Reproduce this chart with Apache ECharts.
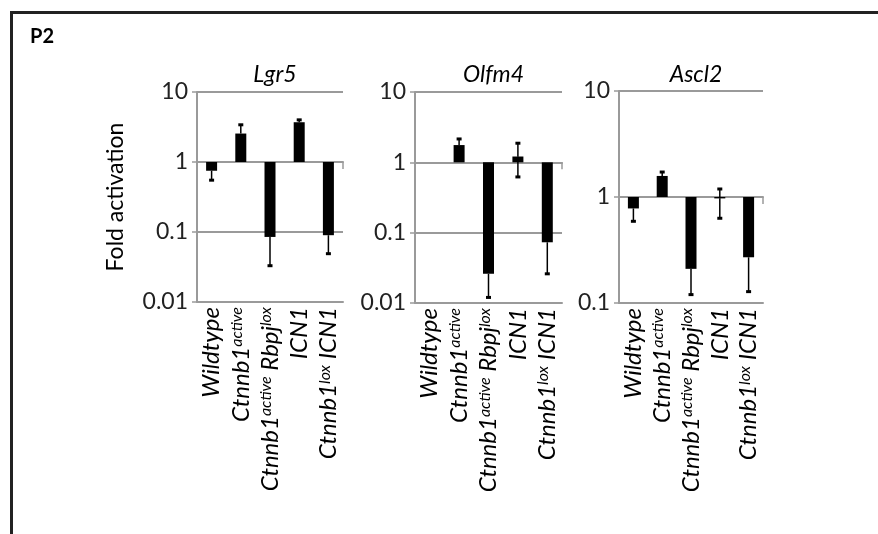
<!DOCTYPE html>
<html>
<head>
<meta charset="utf-8">
<script src="https://cdn.jsdelivr.net/npm/echarts@6/dist/echarts.min.js"></script>
<style>
html, body { margin: 0; padding: 0; background: #fff; }
#main { width: 878px; height: 534px; }
</style>
</head>
<body>
<div id="main"></div>
<script>
// genes (one panel each) and genotypes on the x axis
var genes = ['Lgr5', 'Olfm4', 'Ascl2'];
var genotypes = ['Wildtype', 'Ctnnb1active', 'Ctnnb1activeRbpjlox', 'ICN1', 'Ctnnb1loxICN1'];
var yTicks = ['0.01', '0.1', '1', '10'];

// fold activation (mean) and error bar ends, null = no error bar on that side
var lgr5Mean = [0.75, 2.55, 0.085, 3.7, 0.09];
var lgr5Low = [0.55, null, 0.033, null, 0.049];
var lgr5High = [null, 3.4, null, 4.0, null];

var olfm4Mean = [1, 1.76, 0.026, 1.21, 0.073];
var olfm4Low = [null, null, 0.012, 0.62, 0.026];
var olfm4High = [null, 2.15, null, 1.87, null];

var ascl2Mean = [0.78, 1.58, 0.21, 0.97, 0.27];
var ascl2Low = [0.59, null, 0.12, 0.63, 0.128];
var ascl2High = [null, 1.72, null, 1.19, null];

var means = [lgr5Mean, olfm4Mean, ascl2Mean];
var lows = [lgr5Low, olfm4Low, ascl2Low];
var highs = [lgr5High, olfm4High, ascl2High];
var yMin = [0.01, 0.01, 0.1];
var yMax = [10, 10, 10];

var myChart = echarts.init(document.getElementById('main'));
var grey = '#9a9a9a';
var font = 'Lato, "Open Sans", sans-serif';

// panel boxes
var grids = [
    {left: 197, top: 92, width: 146, height: 210},
    {left: 415, top: 92, width: 147, height: 211},
    {left: 619, top: 91, width: 144, height: 212}
];

var labelMap = {
    'Wildtype': '{i|Wildtype}',
    'Ctnnb1active': '{i|Ctnnb1}{s|active}',
    'Ctnnb1activeRbpjlox': '{i|Ctnnb1}{s|active}{i| Rbpj}{s|lox}',
    'ICN1': '{i|ICN1}',
    'Ctnnb1loxICN1': '{i|Ctnnb1}{s|lox}{i| ICN1}'
};

function renderBar(params, api) {
    var i = api.value(0);
    var v = api.value(1);
    var p1 = api.coord([i, 1]);
    var p2 = api.coord([i, v]);
    var w = 11;
    return {
        type: 'rect',
        shape: {x: p1[0] - w / 2, y: Math.min(p1[1], p2[1]), width: w, height: Math.abs(p2[1] - p1[1])},
        style: {fill: '#000'}
    };
}

function renderErr(params, api) {
    var i = api.value(0);
    var m = api.value(1);
    var ends = [api.value(2), api.value(3)];
    var pm = api.coord([i, m]);
    var kids = [];
    for (var k = 0; k < 2; k++) {
        var e = ends[k];
        if (e == null || isNaN(e)) continue;
        var pe = api.coord([i, e]);
        kids.push({type: 'line', shape: {x1: pm[0], y1: pm[1], x2: pe[0], y2: pe[1]},
            style: {stroke: '#000', lineWidth: 1.5}});
        kids.push({type: 'line', shape: {x1: pe[0] - 2.5, y1: pe[1], x2: pe[0] + 2.5, y2: pe[1]},
            style: {stroke: '#000', lineWidth: 3}});
    }
    return {type: 'group', children: kids};
}

var xAxes = [], yAxes = [], series = [], titles = [];
for (var g = 0; g < 3; g++) {
    var decades = Math.log10(yMax[g] / yMin[g]);
    var oneOffset = grids[g].height * Math.log10(yMax[g] / 1) / decades;
    xAxes.push({
        type: 'category', gridIndex: g, data: genotypes,
        axisLine: {lineStyle: {color: grey, width: 2}},
        axisTick: {show: false},
        axisLabel: {
            rotate: 90, margin: 5, color: '#000',
            formatter: function (v) { return labelMap[v]; },
            rich: {
                i: {fontFamily: font, fontStyle: 'italic', fontSize: 24, color: '#000'},
                s: {fontFamily: font, fontStyle: 'italic', fontSize: 16, color: '#000', verticalAlign: 'top'}
            }
        }
    });
    // axis line through 1 with the category ticks
    xAxes.push({
        type: 'category', gridIndex: g, data: genotypes, position: 'top', offset: -oneOffset,
        axisLine: {lineStyle: {color: grey, width: 2}},
        axisTick: {show: true, inside: true, length: 7, lineStyle: {color: grey, width: 1.5}},
        axisLabel: {show: false}
    });
    yAxes.push({
        type: 'log', logBase: 10, gridIndex: g, min: yMin[g], max: yMax[g],
        name: g === 0 ? 'Fold activation' : '',
        nameLocation: 'middle', nameGap: 70, nameRotate: 90,
        nameTextStyle: {fontFamily: font, fontSize: 23, color: '#000'},
        axisLine: {show: true, lineStyle: {color: grey, width: 2}},
        axisTick: {show: true, length: 5, lineStyle: {color: grey, width: 1.5}},
        splitLine: {show: true, lineStyle: {color: grey, width: 2}},
        axisLabel: {fontFamily: font, fontSize: 23, color: '#222', margin: 9,
            formatter: function (v) {
                var s = yTicks.filter(function (t) { return Math.abs(Number(t) - v) < v * 1e-6; });
                return s.length ? s[0] : '';
            }}
    });
    var barData = [], errData = [];
    for (var i = 0; i < genotypes.length; i++) {
        barData.push([i, means[g][i]]);
        errData.push([i, means[g][i], lows[g][i], highs[g][i]]);
    }
    series.push({type: 'custom', name: genes[g], xAxisIndex: g * 2, yAxisIndex: g,
        renderItem: renderBar, data: barData, encode: {x: 0, y: 1}, z: 3});
    series.push({type: 'custom', name: genes[g] + ' err', xAxisIndex: g * 2, yAxisIndex: g,
        renderItem: renderErr, data: errData, encode: {x: 0, y: [1, 2, 3]}, z: 4});
    titles.push({
        text: genes[g], left: grids[g].left + grids[g].width / 2, top: 58, textAlign: 'center',
        textStyle: {fontFamily: font, fontStyle: 'italic', fontWeight: 'normal', fontSize: 23, color: '#000'}
    });
}
titles.push({text: 'P2', left: 25, top: 22,
    textStyle: {fontFamily: font, fontWeight: 'bold', fontSize: 20, color: '#000'}});

option = {
    backgroundColor: '#fff',
    animation: false,
    title: titles,
    grid: grids,
    xAxis: xAxes,
    yAxis: yAxes,
    series: series,
    graphic: [{
        type: 'rect', left: 9, top: 10, z: 10,
        shape: {width: 1000, height: 1000},
        style: {fill: 'none', stroke: '#222', lineWidth: 3}
    }]
};
myChart.setOption(option);
</script>
</body>
</html>
